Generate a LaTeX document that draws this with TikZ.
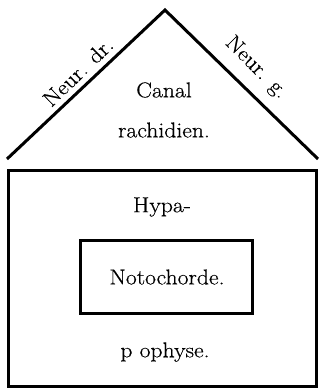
\documentclass[tikz,border=0pt]{standalone}
\usepackage{fontspec}
\setmainfont[FakeStretch=1.1,FakeBold=0.4]{Latin Modern Roman}
\begin{document}
\begin{tikzpicture}[x=1pt,y=-1pt,
  thick line/.style={line width=3pt,line join=miter},
  lab/.style={font=\fontsize{21.5}{24}\selectfont,inner sep=0pt}]
\useasboundingbox (0,0) rectangle (322,391);
\coordinate (apex) at (165,10);
\coordinate (bl) at (7,159);
\coordinate (br) at (318,159);
\draw[thick line] (bl) -- (apex) -- (br);
\node[draw,thick line,minimum width=308pt,minimum height=216pt,inner sep=0pt] (outer) at (162,278) {};
\node[draw,thick line,minimum width=172pt,minimum height=73pt,inner sep=0pt] (inner) at (166,277) {};
\node[lab] (canal) at (164,90) {Canal};
\node[lab] (rach) at (164,130) {rachidien.};
\node[lab] (hypa) at (162,207) {Hypa-};
\node[lab] (noto) at (167,277) {Notochorde.};
\node[lab] (poph) at (165,352) {p ophyse.};
\node[lab,rotate=44] (ndr) at (78,72) {Neur. dr.};
\node[lab,rotate=-45] (ng) at (256,68) {Neur. g.};
\end{tikzpicture}
\end{document}
